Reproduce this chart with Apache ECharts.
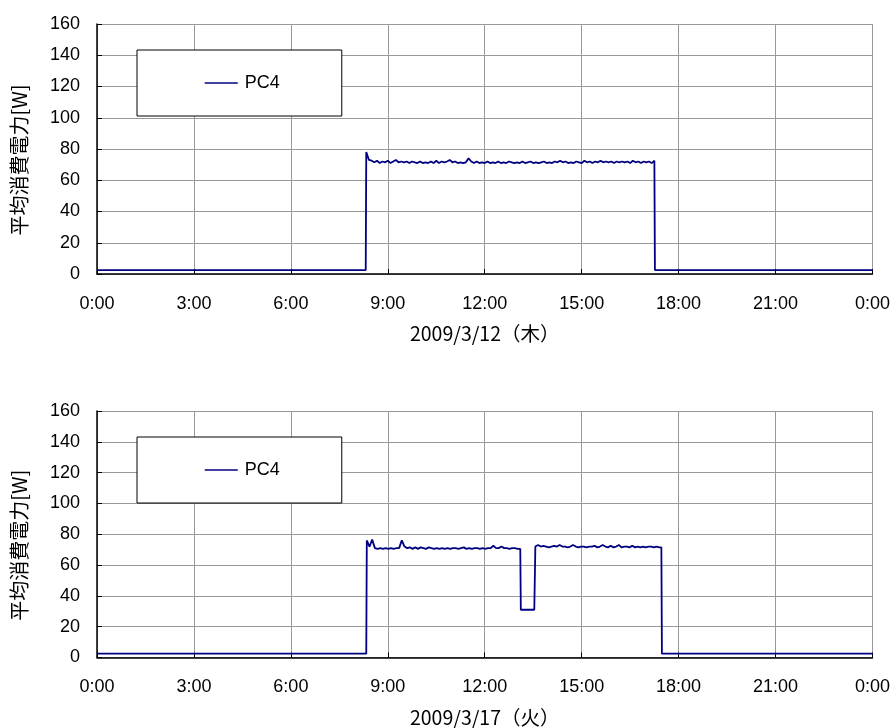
<!DOCTYPE html>
<html>
<head>
<meta charset="utf-8">
<script src="https://cdn.jsdelivr.net/npm/echarts@6/dist/echarts.min.js"></script>
<style>html,body{margin:0;padding:0;background:#fff;}#c{width:893px;height:728px;}</style>
</head>
<body>
<div id="c"></div>
<script>
// ---- data (minutes from midnight, watts) ----
const seriesName = 'PC4';
const xTickLabels = ['0:00','3:00','6:00','9:00','12:00','15:00','18:00','21:00','0:00'];
const topDateLabel = '2009/3/12（木）';
const bottomDateLabel = '2009/3/17（火）';
const yAxisTitle = '平均消費電力[W]';
const sampleStepMin = 5;

// Top chart (2009/3/12)
const topOffValue = 2.5;
const topRiseMin = 500;     // 8:20
const topFallMin = 1036;    // 17:16
const topOnValues = [
  78, 73, 72.5, 71.5, 72.5, 71, 72, 71.5, 72.5, 71, 72, 73,
  71.5, 72, 71.5, 72, 71, 72, 71.5, 71, 72, 71, 71.5, 71,
  72, 71, 72.5, 71, 72, 71.5, 72, 73, 71.5, 72, 71, 71.5,
  71, 71.5, 74, 72, 71, 72, 71, 71.5, 71, 72, 71, 71.5,
  71, 72, 71, 71.5, 71, 72, 71.5, 71, 71.5, 71, 72, 71,
  71.5, 72, 71, 71.5, 71, 71.5, 72, 71, 71.5, 71, 72, 71.5,
  72.5, 71.5, 72, 71, 71.5, 71, 72, 71.5, 71, 72.5, 71.5, 72,
  71, 72, 71.5, 72.5, 71.5, 72, 71.5, 72, 71, 72, 71.5, 72,
  71.5, 72, 71, 72.5, 71.5, 72, 71, 72, 71.5, 72, 71, 72.5
];

// Bottom chart (2009/3/17)
const botOffValue = 2.5;
const botRiseMin = 501;     // 8:21
const botSeg1Values = [
  76, 72, 76.5, 71, 70.5, 71, 70.5, 71, 70.5, 71,
  70.5, 71, 71, 76, 72, 71, 71.5, 70.5, 71.5, 70.5,
  71.5, 71, 70.5, 71.5, 71, 70.5, 71, 70.5, 71, 70.5,
  71, 70.5, 71, 71, 70.5, 71, 71.5, 70.5, 71, 70.5,
  71, 71, 70.5, 71, 70.5, 71, 71, 72.5, 71, 71,
  72, 71, 71, 70.5, 71, 71, 70.5, 70.5
];
const botDipTimes = [787, 788, 800, 812];
const botDipValues = [31, 30.5, 31, 31];
const botSeg2Start = 814;
const botSeg2Values = [
  72, 73, 72, 72.5, 72, 71.5, 72, 72.5, 72, 73,
  72, 72, 71.5, 72, 73, 72, 71.5, 72, 72, 71.5,
  72, 72, 72.5, 71.5, 72, 73, 72, 71.5, 72.5, 71.5,
  72, 73, 71.5, 72, 72, 71.5, 72.5, 71.5, 72, 71.5,
  72, 71.5, 72, 72, 71.5, 72, 71.5
];
const botFallMin = 1049;

// ---- build point lists ----
function seg(start, vals) { return vals.map((v, i) => [start + i * sampleStepMin, v]); }
const topData = [[0, topOffValue], [topRiseMin - 1, topOffValue]]
  .concat(seg(topRiseMin, topOnValues))
  .concat([[topFallMin, topOffValue], [1440, topOffValue]]);
const botData = [[0, botOffValue], [botRiseMin - 1, botOffValue]]
  .concat(seg(botRiseMin, botSeg1Values))
  .concat(botDipTimes.map((t, i) => [t, botDipValues[i]]))
  .concat(seg(botSeg2Start, botSeg2Values))
  .concat([[botFallMin - 1, 71.5], [botFallMin, botOffValue], [1440, botOffValue]]);

const numFont = 'Liberation Sans';
const jpFont = 'Noto Sans CJK JP';
const lineColor = '#000080';

function xAxis(gi, name) {
  return {
    type: 'value', gridIndex: gi, min: 0, max: 1440, interval: 180,
    name: name, nameLocation: 'middle', nameGap: 50,
    nameTextStyle: { fontFamily: jpFont, fontSize: 19.5, color: '#000' },
    axisLine: { lineStyle: { color: '#000', width: 1.5 } },
    axisTick: { inside: true, length: 5, lineStyle: { color: '#000' } },
    axisLabel: { fontFamily: numFont, fontSize: 18, color: '#000', margin: 21,
      formatter: v => xTickLabels[Math.round(v / 180)] },
    splitLine: { show: true, lineStyle: { color: '#999', width: 1 } }
  };
}
function yAxis(gi) {
  return {
    type: 'value', gridIndex: gi, min: 0, max: 160, interval: 20,
    name: yAxisTitle, nameLocation: 'middle', nameGap: 68, nameRotate: 90,
    nameTextStyle: { fontFamily: jpFont, fontSize: 20, color: '#000', padding: [0, 22, 0, 0] },
    axisLine: { show: true, lineStyle: { color: '#000', width: 1.5 } },
    axisTick: { show: true, inside: true, length: 5, lineStyle: { color: '#000' } },
    axisLabel: { fontFamily: numFont, fontSize: 18, color: '#000', margin: 17 },
    splitLine: { show: true, lineStyle: { color: '#999', width: 1 } }
  };
}
function legend(top, si) {
  return {
    left: 137, top: top, orient: 'horizontal',
    data: [seriesName], seriesIndex: si,
    backgroundColor: '#fff', borderColor: '#000', borderWidth: 1,
    padding: [24, 62, 24, 67], itemWidth: 33, itemHeight: 14, itemGap: 5,
    itemStyle: { opacity: 0 },
    lineStyle: { width: 1.5, color: lineColor },
    textStyle: { fontFamily: numFont, fontSize: 18, color: '#000', padding: [0, 0, 0, 2] }
  };
}

const chart = echarts.init(document.getElementById('c'), null, { renderer: 'canvas' });
chart.setOption({
  animation: false,
  backgroundColor: '#fff',
  grid: [
    { left: 97, top: 24, width: 776, height: 250 },
    { left: 97, top: 411, width: 776, height: 250 }
  ],
  xAxis: [xAxis(0, topDateLabel), xAxis(1, bottomDateLabel)],
  yAxis: [yAxis(0), yAxis(1)],
  legend: [legend(50, 0), legend(437, 1)],
  series: [
    { name: seriesName, type: 'line', xAxisIndex: 0, yAxisIndex: 0, data: topData,
      symbol: 'none', lineStyle: { color: lineColor, width: 1.8 }, itemStyle: { color: lineColor } },
    { name: seriesName, type: 'line', xAxisIndex: 1, yAxisIndex: 1, data: botData,
      symbol: 'none', lineStyle: { color: lineColor, width: 1.8 }, itemStyle: { color: lineColor } }
  ]
});
</script>
</body>
</html>
